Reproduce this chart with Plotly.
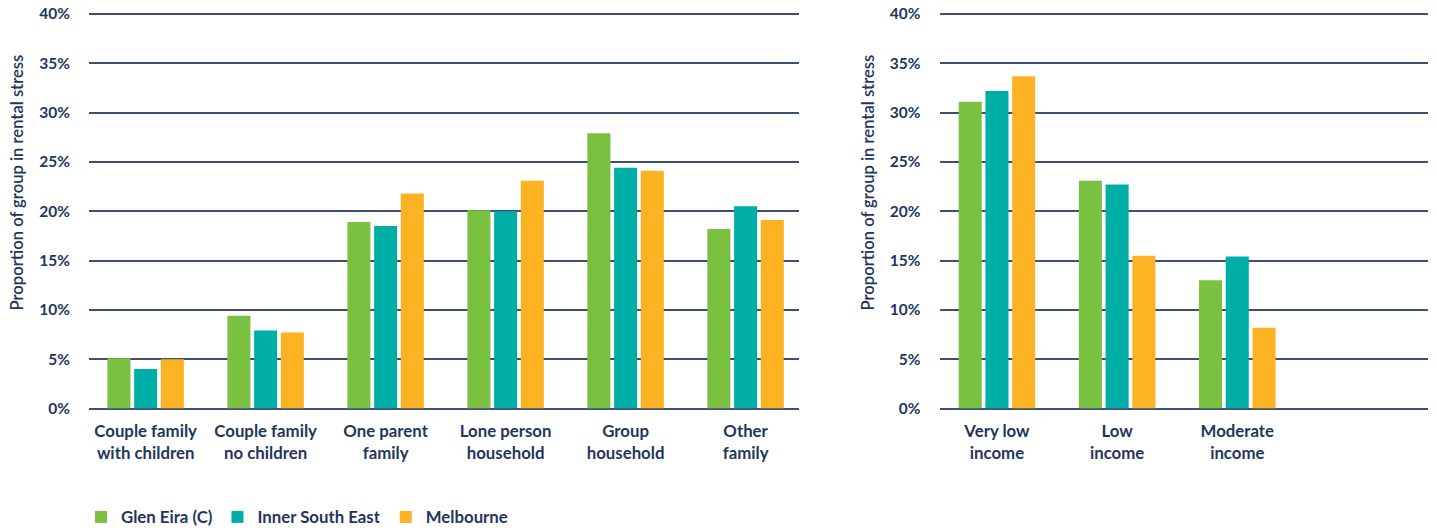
import plotly.graph_objects as go

# Household composition categories (left panel)
household_types = [
    "Couple family with children",
    "Couple family no children",
    "One parent family",
    "Lone person household",
    "Group household",
    "Other family",
]
household_labels = [
    "Couple family<br>with children",
    "Couple family<br>no children",
    "One parent<br>family",
    "Lone person<br>household",
    "Group<br>household",
    "Other<br>family",
]

# Income groups (right panel)
income_groups = ["Very low income", "Low income", "Moderate income"]
income_labels = ["Very low<br>income", "Low<br>income", "Moderate<br>income"]

series_names = ["Glen Eira (C)", "Inner South East", "Melbourne"]
series_colors = ["#7AC142", "#00AEA8", "#FBB223"]

# Proportion of each group in rental stress (%)
glen_eira_household = [5.1, 9.4, 18.9, 20.1, 27.9, 18.2]
inner_se_household = [4.0, 7.9, 18.5, 20.0, 24.4, 20.5]
melbourne_household = [5.0, 7.7, 21.8, 23.1, 24.1, 19.1]

glen_eira_income = [31.1, 23.1, 13.0]
inner_se_income = [32.2, 22.7, 15.4]
melbourne_income = [33.7, 15.5, 8.2]

y_ticks = [0, 5, 10, 15, 20, 25, 30, 35, 40]
y_tick_labels = ["0%", "5%", "10%", "15%", "20%", "25%", "30%", "35%", "40%"]
y_title = "Proportion of group in rental stress"

NAVY = "#22365C"
GRID = "#3E5070"
FONT = "Lato"

household_series = [glen_eira_household, inner_se_household, melbourne_household]
income_series = [glen_eira_income, inner_se_income, melbourne_income]

fig = go.Figure()

for name, color, values in zip(series_names, series_colors, household_series):
    fig.add_trace(go.Bar(
        x=household_types, y=values, name=name, marker_color=color,
        marker_line_width=0, xaxis="x", yaxis="y", legendgroup=name,
    ))

for name, color, values in zip(series_names, series_colors, income_series):
    fig.add_trace(go.Bar(
        x=income_groups, y=values, name=name, marker_color=color,
        marker_line_width=0, xaxis="x2", yaxis="y2", legendgroup=name,
        showlegend=False,
    ))

W, H = 1437, 528
y_max = 40.3
y_zero_px = 408.5
px_per_unit = (408.5 - 14) / 40
y_top_px = y_zero_px - y_max * px_per_unit
y_domain = [1 - y_zero_px / H, 1 - y_top_px / H]

tick_font = dict(family=FONT, size=15.5, color=NAVY, weight="bold")
xtick_font = dict(family=FONT, size=16.8, color=NAVY, weight="bold")
title_font = dict(family=FONT, size=16.6, color=NAVY, weight=600)

yaxis_common = dict(
    range=[0, y_max],
    tickvals=y_ticks,
    ticktext=y_tick_labels,
    tickfont=tick_font,
    showgrid=True,
    gridcolor=GRID,
    gridwidth=1.5,
    zeroline=True,
    zerolinecolor=GRID,
    zerolinewidth=1.5,
    showline=False,
    ticks="",
    ticklabelstandoff=18,
    domain=y_domain,
    fixedrange=True,
    automargin=False,
)

xaxis_common = dict(
    tickfont=xtick_font,
    showgrid=False,
    showline=False,
    zeroline=False,
    ticks="",
    ticklabelstandoff=11,
    automargin=False,
    fixedrange=True,
)

fig.update_layout(
    width=W,
    height=H,
    margin=dict(l=0, r=0, t=0, b=0, autoexpand=False),
    paper_bgcolor="white",
    plot_bgcolor="white",
    barmode="group",
    bargap=0.3325,
    bargroupgap=0.138,
    font=dict(family=FONT, color=NAVY),
    xaxis=dict(
        **xaxis_common,
        domain=[89 / W, 799 / W],
        range=[-0.472, 5.445],
        tickvals=household_types,
        ticktext=household_labels,
        anchor="y",
    ),
    yaxis=dict(**yaxis_common, anchor="x"),
    xaxis2=dict(
        **xaxis_common,
        domain=[939.5 / W, 1428 / W],
        range=[-0.478, 3.587],
        tickvals=income_groups,
        ticktext=income_labels,
        anchor="y2",
    ),
    yaxis2=dict(**yaxis_common, anchor="x2"),
    legend=dict(
        orientation="h",
        x=81 / W,
        xanchor="left",
        y=1 - 517 / H,
        yanchor="middle",
        font=dict(family=FONT, size=16.8, color=NAVY, weight="bold"),
        bgcolor="rgba(0,0,0,0)",
        itemclick=False,
        itemdoubleclick=False,
    ),
)

# Rotated axis titles, one per panel
for x_px in (16, 867):
    fig.add_annotation(
        text=y_title,
        xref="paper", yref="paper",
        x=x_px / W, y=1 - 182.5 / H,
        xanchor="center", yanchor="middle",
        textangle=-90,
        showarrow=False,
        font=title_font,
    )

fig.write_html("out.html")
